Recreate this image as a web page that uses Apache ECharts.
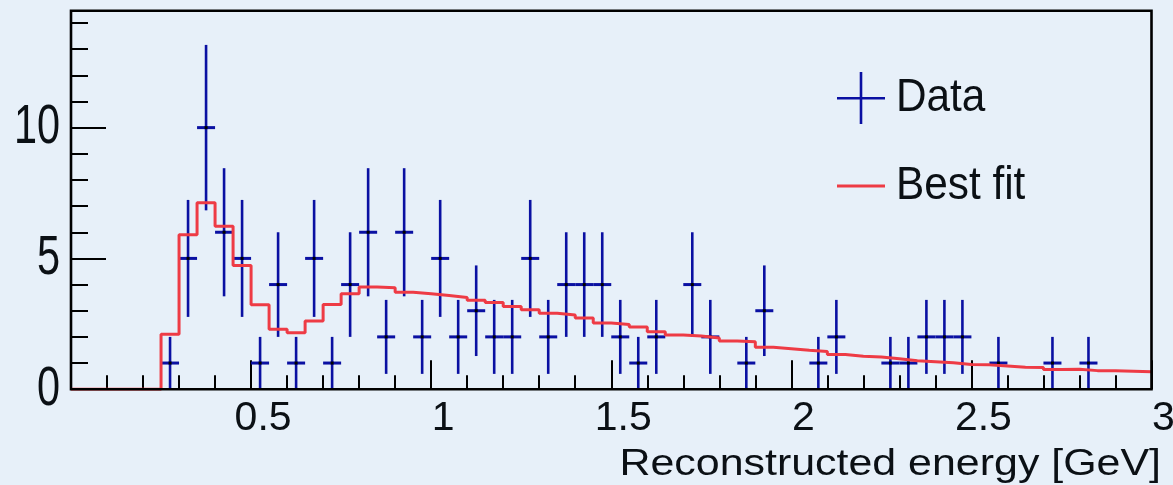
<!DOCTYPE html>
<html>
<head>
<meta charset="utf-8">
<script src="https://cdn.jsdelivr.net/npm/echarts@6/dist/echarts.min.js"></script>
<style>
html, body { margin: 0; padding: 0; background: #e7f0f9; }
#chart { width: 1173px; height: 485px; }
</style>
</head>
<body>
<div id="chart"></div>
<script>
// histogram binning: 60 bins of 0.05 GeV from 0 to 3
const binWidth = 0.05;
const xTickLabels = [0.5, 1, 1.5, 2, 2.5, 3];
const yTickLabels = [0, 5, 10];

// observed counts per bin
const counts = [
  0, 0, 0, 0, 0, 1, 5, 10, 6, 5,
  1, 4, 1, 5, 1, 4, 6, 2, 6, 2,
  5, 2, 3, 2, 2, 5, 2, 4, 4, 4,
  2, 1, 2, 0, 4, 2, 0, 1, 3, 0,
  0, 1, 2, 0, 0, 1, 1, 2, 2, 2,
  0, 1, 0, 0, 1, 0, 1, 0, 0, 0
];

// best fit prediction per bin
const bestFit = [
  0, 0, 0, 0, 0, 2.1, 5.9, 7.13, 6.23, 4.73,
  3.23, 2.29, 2.16, 2.61, 3.24, 3.65, 3.91, 3.88, 3.71, 3.65,
  3.58, 3.51, 3.40, 3.31, 3.16, 3.04, 2.90, 2.84, 2.72, 2.53,
  2.47, 2.38, 2.20, 2.07, 2.03, 1.96, 1.84, 1.81, 1.60, 1.55,
  1.49, 1.44, 1.33, 1.26, 1.23, 1.16, 1.09, 1.05, 1.01, 0.94,
  0.93, 0.89, 0.84, 0.83, 0.75, 0.76, 0.71, 0.71, 0.69, 0.67
];

const blue = '#0a10a2';
const red = '#ee3b45';
const ink = '#0b1015';
const font = '"Liberation Sans", Arial, Helvetica, sans-serif';
const yMax = 14.47;

// data points (skip empty bins), error = sqrt(n)
const dataPts = [];
counts.forEach((n, i) => {
  if (n > 0) dataPts.push([(i + 0.5) * binWidth, n, Math.sqrt(n)]);
});

// step line through bin low edges
const fitPts = bestFit.map((v, i) => [i * binWidth, v]);
fitPts.push([bestFit.length * binWidth, bestFit[bestFit.length - 1]]);

const chart = echarts.init(document.getElementById('chart'));

const tickStyle = { color: '#000', width: 2 };
const gridBox = { left: 71, right: 21.5, top: 10.7, bottom: 95.8 };

chart.setOption({
  backgroundColor: '#e7f0f9',
  animation: false,
  grid: {
    left: gridBox.left, right: gridBox.right, top: gridBox.top, bottom: gridBox.bottom,
    outerBoundsMode: 'none', containLabel: false
  },
  xAxis: {
    type: 'value', min: 0, max: 3, interval: 0.5,
    axisLine: { show: false },
    splitLine: { show: false },
    axisTick: { inside: true, length: 29, lineStyle: tickStyle },
    minorTick: { show: true, splitNumber: 5, length: 14, lineStyle: tickStyle },
    axisLabel: { show: false }
  },
  yAxis: [
    {
      type: 'value', min: 0, max: yMax, interval: 1, position: 'left', offset: 0,
      axisLine: { show: false }, splitLine: { show: false },
      axisTick: { inside: true, length: 17, lineStyle: tickStyle },
      axisLabel: { show: false }
    },
    {
      type: 'value', min: 0, max: yMax, interval: 5, position: 'left', offset: 0,
      axisLine: { show: false }, splitLine: { show: false },
      axisTick: { inside: true, length: 35, lineStyle: tickStyle },
      axisLabel: { show: false }
    }
  ],
  series: [
    {
      name: 'Best fit',
      type: 'line',
      step: 'end',
      data: fitPts,
      symbol: 'none',
      silent: true,
      lineStyle: { color: red, width: 3 }
    },
    {
      name: 'Data',
      type: 'custom',
      data: dataPts,
      silent: true,
      renderItem: function (params, api) {
        const x = api.value(0), n = api.value(1), e = api.value(2);
        const c = api.coord([x, n]);
        const top = api.coord([x, n + e]);
        const bot = api.coord([x, n - e]);
        const l = api.coord([x - binWidth / 2, n]);
        const r = api.coord([x + binWidth / 2, n]);
        return {
          type: 'group',
          children: [
            { type: 'line', shape: { x1: c[0], y1: top[1], x2: c[0], y2: bot[1] },
              style: { stroke: blue, lineWidth: 2.6 } },
            { type: 'line', shape: { x1: l[0], y1: c[1], x2: r[0], y2: c[1] },
              style: { stroke: blue, lineWidth: 3 } },
            { type: 'rect', shape: { x: c[0] - 1.5, y: c[1] - 1.5, width: 3, height: 3 },
              style: { fill: '#000' } }
          ]
        };
      }
    }
  ]
});

const graphics = [];

// frame on top of the series
const p0 = chart.convertToPixel({ gridIndex: 0 }, [0, 0]);
const p1 = chart.convertToPixel({ gridIndex: 0 }, [3, yMax]);
graphics.push({
  type: 'rect', z: 100,
  shape: { x: p0[0], y: p1[1], width: p1[0] - p0[0], height: p0[1] - p1[1] },
  style: { fill: null, stroke: '#000', lineWidth: 2.6 }
});

// y tick labels (tall, narrow ROOT style)
yTickLabels.forEach(v => graphics.push({
  type: 'text',
  x: 60,
  y: chart.convertToPixel({ yAxisIndex: 0 }, v),
  scaleX: 0.74,
  style: {
    text: String(v), font: '56px ' + font, fill: ink,
    textAlign: 'right', textVerticalAlign: 'middle'
  }
}));

// x tick labels, sitting a little right of their ticks as in the original
xTickLabels.forEach(v => graphics.push({
  type: 'text',
  x: chart.convertToPixel({ xAxisIndex: 0 }, v) + 12,
  y: 419,
  style: {
    text: String(v), font: '41px ' + font, fill: ink,
    textAlign: 'center', textVerticalAlign: 'middle'
  }
}));

graphics.push({
  type: 'text', x: 1161, y: 465, scaleX: 1.16,
  style: {
    text: 'Reconstructed energy [GeV]', font: '37px ' + font, fill: ink,
    textAlign: 'right', textVerticalAlign: 'middle'
  }
});

// legend
graphics.push(
  { type: 'line', shape: { x1: 837, y1: 98.3, x2: 885, y2: 98.3 }, style: { stroke: blue, lineWidth: 2.6 } },
  { type: 'line', shape: { x1: 861, y1: 72, x2: 861, y2: 124 }, style: { stroke: blue, lineWidth: 2.6 } },
  { type: 'text', x: 896, y: 98.4, scaleX: 0.92,
    style: { text: 'Data', font: '46px ' + font, fill: ink, textAlign: 'left', textVerticalAlign: 'middle' } },
  { type: 'line', shape: { x1: 837, y1: 186, x2: 885, y2: 186 }, style: { stroke: red, lineWidth: 3 } },
  { type: 'text', x: 896, y: 186.3, scaleX: 0.92,
    style: { text: 'Best fit', font: '46px ' + font, fill: ink, textAlign: 'left', textVerticalAlign: 'middle' } }
);

chart.setOption({ graphic: graphics });
</script>
</body>
</html>
